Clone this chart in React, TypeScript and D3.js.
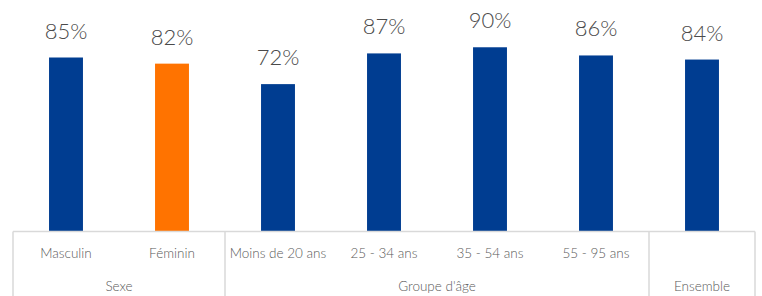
import React, { useEffect, useRef } from "react";
import * as d3 from "d3";

const categories = ["Masculin", "Féminin", "Moins de 20 ans", "25 - 34 ans", "35 - 54 ans", "55 - 95 ans", "Ensemble"];
const values = [85, 82, 72, 87, 90, 86, 84];
const barColors = ["#003d91", "#ff7300", "#003d91", "#003d91", "#003d91", "#003d91", "#003d91"];
const groups = [
  { label: "Sexe", start: 0, count: 2 },
  { label: "Groupe d'âge", start: 2, count: 4 },
  { label: "Ensemble", start: 6, count: 1 },
];
const groupTickLabels = [true, true, true, true, true, true, false];

const App: React.FC = () => {
  const svgRef = useRef<SVGSVGElement | null>(null);

  useEffect(() => {
    const width = 762;
    const height = 296;
    const left = 13;
    const right = 755;
    const base = 231.5;

    const svg = d3.select(svgRef.current);
    svg.selectAll("*").remove();
    svg.attr("width", width).attr("height", height);

    const x = d3
      .scaleBand<number>()
      .domain(d3.range(categories.length))
      .range([left, right])
      .paddingInner(0.68)
      .paddingOuter(0.34);

    const step = x.step();

    const y = d3.scaleLinear().domain([0, 100]).range([base, 26.8]);

    const font = "Lato, 'Open Sans', sans-serif";

    // Bars
    svg
      .append("g")
      .selectAll("rect")
      .data(values)
      .join("rect")
      .attr("x", (_, i) => x(i)!)
      .attr("y", d => y(d))
      .attr("width", x.bandwidth())
      .attr("height", d => y(0) - y(d))
      .attr("fill", (_, i) => barColors[i]);

    // Value labels
    svg
      .append("g")
      .selectAll("text")
      .data(values)
      .join("text")
      .attr("x", (_, i) => x(i)! + x.bandwidth() / 2)
      .attr("y", d => y(d) - 19)
      .attr("text-anchor", "middle")
      .attr("font-family", font)
      .attr("font-weight", 300)
      .attr("font-size", "22px")
      .attr("fill", "#4a4a4a")
      .text(d => `${d}%`);

    // Axis frame
    const frame = svg.append("g").attr("stroke", "#d9d9d9").attr("stroke-width", 1.5).attr("fill", "none");
    frame.append("line").attr("x1", left).attr("x2", right).attr("y1", base).attr("y2", base);
    const bounds = [left, ...groups.map(g => left + (g.start + g.count) * step)];
    bounds.forEach(bx => {
      frame.append("line").attr("x1", bx).attr("x2", bx).attr("y1", base).attr("y2", height);
    });

    // Category labels
    svg
      .append("g")
      .selectAll("text")
      .data(categories.filter((_, i) => groupTickLabels[i]))
      .join("text")
      .attr("x", (_, i) => x(i)! + x.bandwidth() / 2)
      .attr("y", 258)
      .attr("text-anchor", "middle")
      .attr("font-family", font)
      .attr("font-weight", 300)
      .attr("font-size", "13.5px")
      .attr("fill", "#595959")
      .text(d => d);

    // Group labels
    svg
      .append("g")
      .selectAll("text")
      .data(groups)
      .join("text")
      .attr("x", g => left + (g.start + g.count / 2) * step)
      .attr("y", 291)
      .attr("text-anchor", "middle")
      .attr("font-family", font)
      .attr("font-weight", 300)
      .attr("font-size", "13.5px")
      .attr("fill", "#595959")
      .text(g => g.label);
  }, []);

  return <svg ref={svgRef} style={{ position: "absolute", left: 0, top: 0 }}></svg>;
};

export default App;
